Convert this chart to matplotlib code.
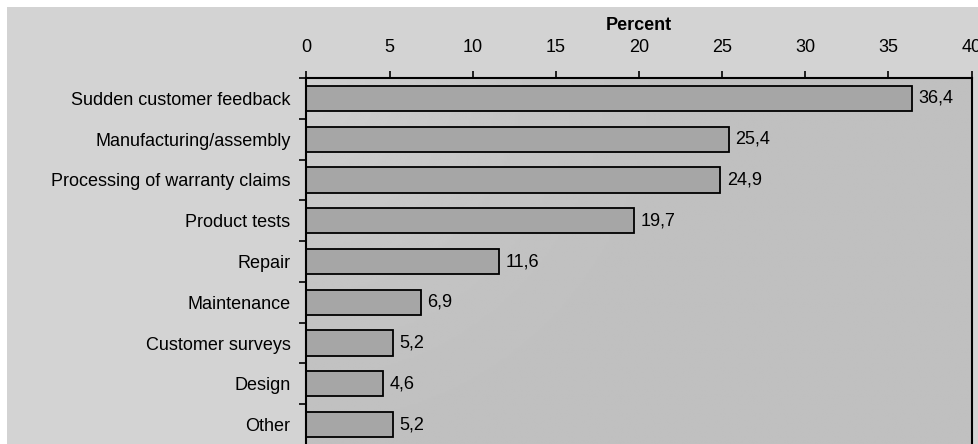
import numpy as np
import matplotlib
matplotlib.use("Agg")
import matplotlib.pyplot as plt
from matplotlib.patches import Rectangle

plt.rcParams['font.family'] = ['Liberation Sans', 'DejaVu Sans']

categories = [
    "Sudden customer feedback",
    "Manufacturing/assembly",
    "Processing of warranty claims",
    "Product tests",
    "Repair",
    "Maintenance",
    "Customer surveys",
    "Design",
    "Other",
]
values = [36.4, 25.4, 24.9, 19.7, 11.6, 6.9, 5.2, 4.6, 5.2]
x_ticks = [0, 5, 10, 15, 20, 25, 30, 35, 40]
axis_title = "Percent"

W, H = 979, 444
fig = plt.figure(figsize=(W / 100, H / 100), dpi=100, facecolor="#d3d3d3")

# thin white margins along the top and left edges
for rect in [(0, 1 - 7 / H, 1, 7 / H), (0, 0, 7 / W, 1)]:
    fig.patches.append(Rectangle(rect[:2], rect[2], rect[3], transform=fig.transFigure,
                                 facecolor="white", edgecolor="none", zorder=-1))

left_px, right_px, top_px, bottom_px = 306.5, 971.5, 78.0, 445.0
ax = fig.add_axes([left_px / W, 1 - bottom_px / H,
                   (right_px - left_px) / W, (bottom_px - top_px) / H])
ax.set_facecolor("none")

# soft diagonal shading of the plot area
gx, gy = np.meshgrid(np.linspace(0, 1, 300), np.linspace(0, 1, 200))
d = np.sqrt((gx * 1.0) ** 2 + (gy * 0.55) ** 2)
shade = 0.753 + (0.815 - 0.753) * np.clip(1 - d / 0.55, 0, 1) ** 1.5
ax.imshow(shade, cmap="gray", vmin=0, vmax=1, extent=[0, 1, 0, 1],
          transform=ax.transAxes, origin="upper", aspect="auto",
          zorder=0, interpolation="bilinear")

y = np.arange(len(categories))
ax.barh(y, values, height=0.62, color="#a6a6a6", edgecolor="black",
        linewidth=1.3, zorder=2)

for yi, v in zip(y, values):
    ax.text(v + 0.38, yi, f"{v:.1f}".replace(".", ","), va="center",
            ha="left", fontsize=13, color="black", zorder=3)

ax.set_xlim(0, 40)
ax.set_ylim(len(categories) - 0.5, -0.5)

ax.xaxis.tick_top()
ax.set_xticks(x_ticks)
ax.set_xticklabels([str(t) for t in x_ticks], fontsize=13)
ax.tick_params(axis="x", direction="out", length=5, width=1.2, pad=11,
               colors="black")

# category boundaries carry the ticks, centers carry the labels
ax.set_yticks(np.arange(-0.5, len(categories) - 0.5 + 1e-9, 1.0))
ax.set_yticklabels([])
ax.tick_params(axis="y", which="major", direction="out", length=5, width=1.2)
ax.set_yticks(y, minor=True)
ax.set_yticklabels(categories, minor=True, fontsize=13)
ax.tick_params(axis="y", which="minor", length=0, pad=11.5)

for side in ("left", "top", "right"):
    ax.spines[side].set_color("black")
    ax.spines[side].set_linewidth(1.5)
ax.spines["bottom"].set_visible(False)

ax.text(0.5, (bottom_px - 25) / (bottom_px - top_px), axis_title,
        transform=ax.transAxes, ha="center", va="center",
        fontsize=13, fontweight="bold")

fig.savefig("out.png", dpi=100, facecolor=fig.get_facecolor())
